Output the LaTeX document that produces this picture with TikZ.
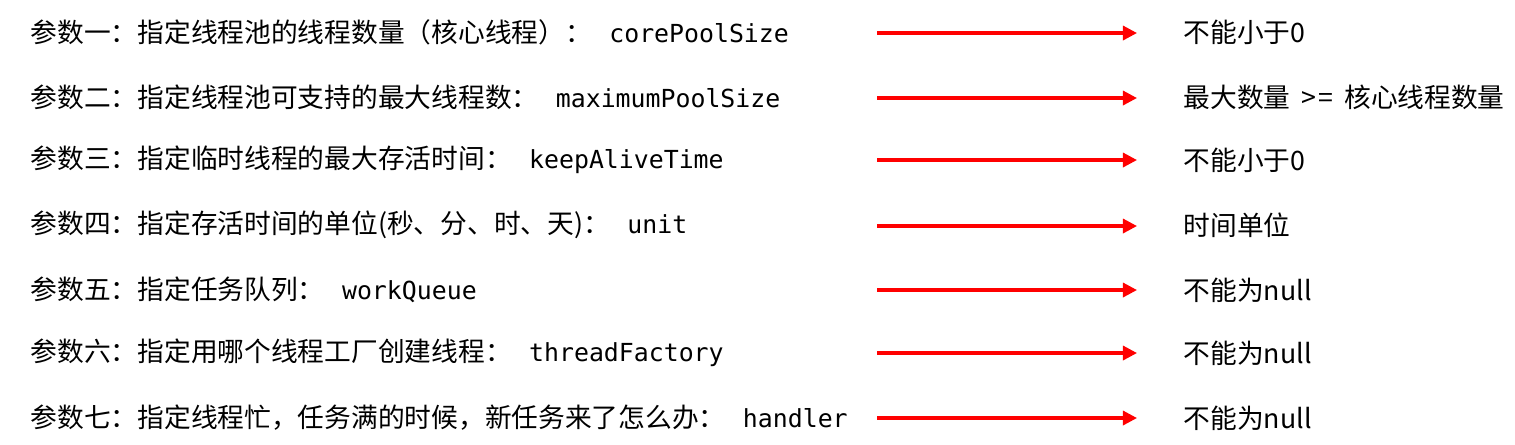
\documentclass[tikz,border=0pt]{standalone}
\usepackage{fontspec}
\setmainfont{Noto Sans CJK SC}
\setmonofont[Scale=0.93]{DejaVu Sans Mono}
\usepackage{tikz}
\usetikzlibrary{positioning, arrows.meta}

\begin{document}
\begin{tikzpicture}[x=0.01cm, y=-0.01cm, >={Triangle[length=4pt,width=4pt]}]
    % Stili
    \tikzstyle{param} = [anchor=west, inner sep=0pt, font=\fontsize{7.6pt}{9pt}\selectfont]
    \tikzstyle{rule} = [anchor=west, inner sep=0pt, font=\fontsize{7.6pt}{9pt}\selectfont]
    \tikzstyle{link} = [->, red, line width=0.9pt]

    \useasboundingbox (0,0) rectangle (1515,444);

    % Parametri
    \node [param] (p1) at (30,32) {参数一：指定线程池的线程数量（核心线程）：\hspace{0.65em}\texttt{corePoolSize}};
    \node [param] (p2) at (30,97) {参数二：指定线程池可支持的最大线程数：\hspace{0.65em}\texttt{maximumPoolSize}};
    \node [param] (p3) at (30,160) {参数三：指定临时线程的最大存活时间：\hspace{0.65em}\texttt{keepAliveTime}};
    \node [param] (p4) at (30,225) {参数四：指定存活时间的单位(秒、分、时、天)：\hspace{0.65em}\texttt{unit}};
    \node [param] (p5) at (30,290) {参数五：指定任务队列：\hspace{0.65em}\texttt{workQueue}};
    \node [param] (p6) at (30,353) {参数六：指定用哪个线程工厂创建线程：\hspace{0.65em}\texttt{threadFactory}};
    \node [param] (p7) at (30,418) {参数七：指定线程忙，任务满的时候，新任务来了怎么办：\hspace{0.65em}\texttt{handler}};

    % Vincoli
    \node [rule] (r1) at (1183,32) {不能小于0};
    \node [rule] (r2) at (1183,97) {最大数量\hspace{0.4em}>\hspace{0.1em}=\hspace{0.4em}核心线程数量};
    \node [rule] (r3) at (1183,160) {不能小于0};
    \node [rule] (r4) at (1183,225) {时间单位};
    \node [rule] (r5) at (1183,290) {不能为null};
    \node [rule] (r6) at (1183,353) {不能为null};
    \node [rule] (r7) at (1183,418) {不能为null};

    % Frecce
    \coordinate (a1) at (877,33);  \coordinate (b1) at (1137,33);
    \coordinate (a2) at (877,98);  \coordinate (b2) at (1137,98);
    \coordinate (a3) at (877,160); \coordinate (b3) at (1137,160);
    \coordinate (a4) at (877,226); \coordinate (b4) at (1137,226);
    \coordinate (a5) at (877,290); \coordinate (b5) at (1137,290);
    \coordinate (a6) at (877,353); \coordinate (b6) at (1137,353);
    \coordinate (a7) at (877,418); \coordinate (b7) at (1137,418);
    \draw [link] (a1) -- (b1);
    \draw [link] (a2) -- (b2);
    \draw [link] (a3) -- (b3);
    \draw [link] (a4) -- (b4);
    \draw [link] (a5) -- (b5);
    \draw [link] (a6) -- (b6);
    \draw [link] (a7) -- (b7);

\end{tikzpicture}
\end{document}
